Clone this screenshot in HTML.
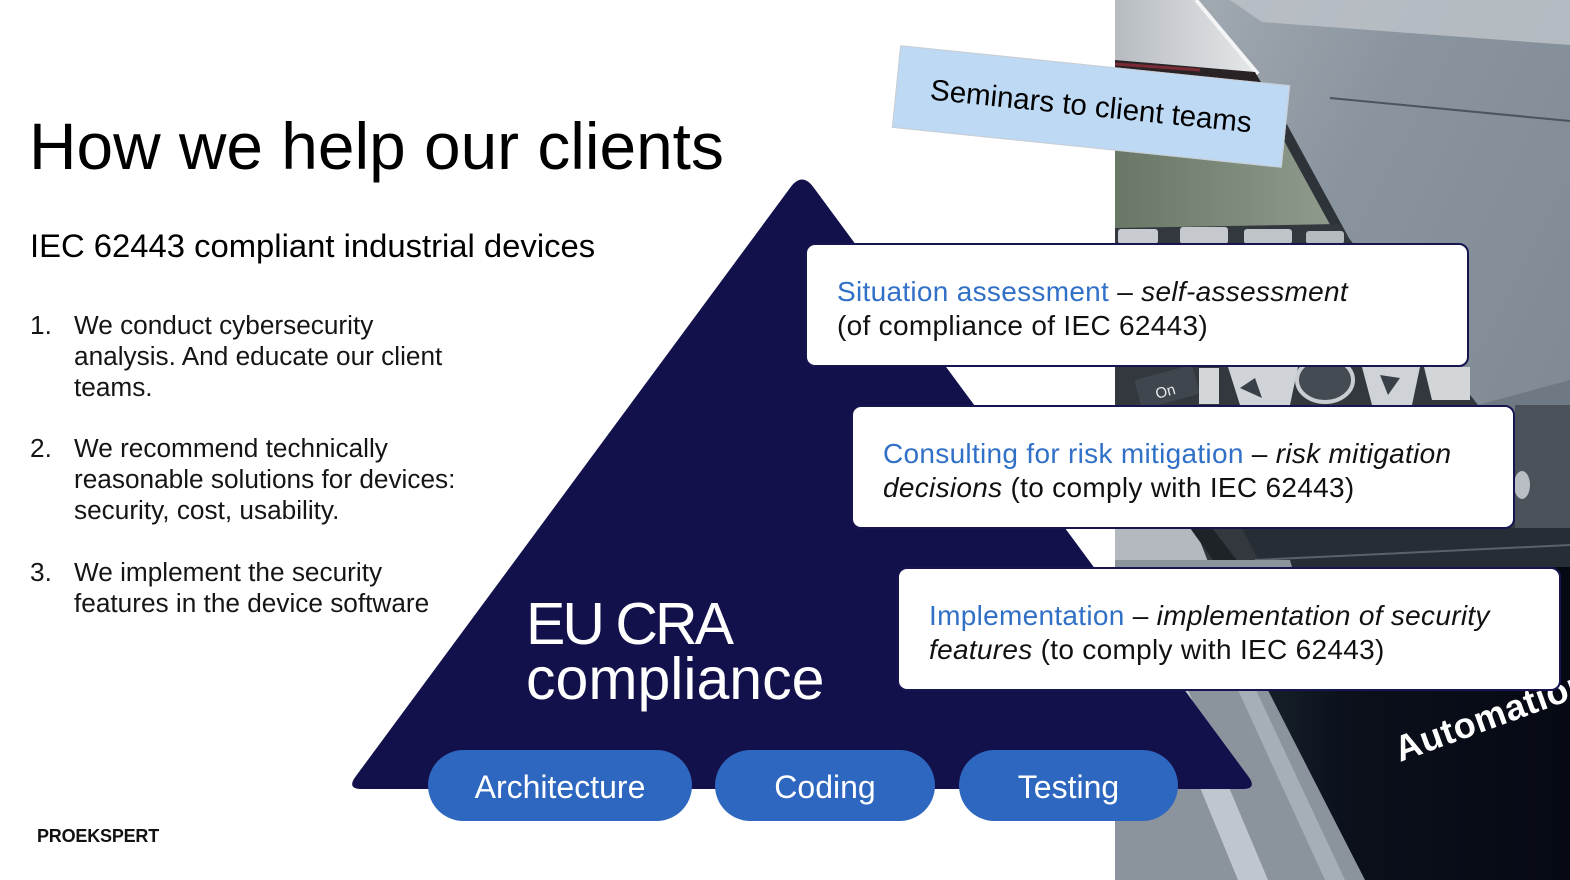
<!DOCTYPE html>
<html><head><meta charset="utf-8">
<style>
*{margin:0;padding:0;box-sizing:border-box}
html,body{width:1570px;height:880px;overflow:hidden;background:#fff}
body{position:relative;font-family:"Liberation Sans",Arial,sans-serif}
.abs{position:absolute}
.title{left:29px;top:113px;font-size:65.8px;line-height:66px;color:#000;white-space:nowrap}
.sub{left:30px;top:229px;font-size:32.8px;line-height:33px;color:#000;white-space:nowrap}
.li{position:absolute;font-size:26.2px;line-height:31px;color:#151515;white-space:nowrap}
.box{position:absolute;background:#fff;border:2px solid #17154f;border-radius:10px;width:664px;height:124px}
.box .t{position:absolute;left:30px;top:30px;font-size:28px;line-height:34px;color:#111;white-space:nowrap;letter-spacing:0.3px}
.blue{color:#3170c7}
.pill{position:absolute;top:750px;height:71px;padding-top:3px;border-radius:36px;background:#2e67bf;color:#fff;font-size:32px;display:flex;align-items:center;justify-content:center}
.eu{left:526px;top:597px;font-size:59px;line-height:55px;color:#fff;white-space:nowrap}
.sem{position:absolute;left:895px;top:65px;width:392px;height:83px;background:#bed9f4;border:1px solid #c9cdd2;transform:rotate(5.86deg);display:flex;align-items:center;justify-content:center;font-size:29.5px;color:#000;white-space:nowrap}
.logo{left:37px;top:826px;font-size:18px;line-height:20px;font-weight:bold;color:#111;letter-spacing:-0.2px}
</style></head><body>

<svg class="abs" style="left:0;top:0" width="1570" height="880" viewBox="0 0 1570 880">
<defs>
 <clipPath id="ph"><rect x="1115" y="0" width="455" height="880"/></clipPath>
 <linearGradient id="gMain" x1="0" y1="0" x2="1" y2="1">
  <stop offset="0" stop-color="#a9b0b7"/><stop offset="0.35" stop-color="#8a949e"/><stop offset="1" stop-color="#78838e"/>
 </linearGradient>
 <linearGradient id="gSilver" x1="0" y1="0" x2="1" y2="0">
  <stop offset="0" stop-color="#b6bbc0"/><stop offset="1" stop-color="#e6e8ea"/>
 </linearGradient>
 <linearGradient id="gLcd" x1="0" y1="0" x2="1" y2="0">
  <stop offset="0" stop-color="#697766"/><stop offset="1" stop-color="#8f9b8d"/>
 </linearGradient>
 <linearGradient id="gDark" x1="0" y1="0" x2="1" y2="0">
  <stop offset="0" stop-color="#1e2a33"/><stop offset="0.4" stop-color="#0b101b"/><stop offset="1" stop-color="#060914"/>
 </linearGradient>
</defs>
<g clip-path="url(#ph)">
 <rect x="1115" y="0" width="455" height="880" fill="url(#gMain)"/>
 <polygon points="1230,0 1570,0 1570,45 1262,22" fill="#bcc2c8" opacity="0.85"/>
 <polygon points="1115,0 1196,0 1258,74 1115,62" fill="url(#gSilver)"/>
 <line x1="1196" y1="0" x2="1258" y2="74" stroke="#f2f4f6" stroke-width="4"/>
 <polygon points="1115,60 1255,72 1262,84 1115,74" fill="#2a2326"/>
 <line x1="1115" y1="64" x2="1200" y2="70" stroke="#7a2a35" stroke-width="3"/>
 <polygon points="1115,74 1265,84 1350,240 1115,240" fill="#2e3339"/>
 <polygon points="1115,98 1266,108 1333,230 1115,230" fill="url(#gLcd)"/>
 <polygon points="1115,228 1338,224 1478,405 1570,440 1570,567 1115,567" fill="#33383f"/>
 <polygon points="1478,405 1570,380 1570,440" fill="#6f7984"/>
 <rect x="1515" y="405" width="55" height="125" fill="#4b525a"/>
 <ellipse cx="1522" cy="485" rx="8" ry="14" fill="#b8bec4"/>
 <rect x="1118" y="229" width="40" height="15" rx="3" fill="#c8ccd0"/>
 <rect x="1180" y="227" width="48" height="17" rx="3" fill="#c5c9cd"/>
 <rect x="1244" y="229" width="48" height="15" rx="3" fill="#bfc4c8"/>
 <rect x="1306" y="231" width="38" height="13" rx="3" fill="#b5babf"/>
 <rect x="1137" y="372" width="60" height="30" rx="4" fill="#40464d" transform="rotate(-15 1167 387)"/>
 <text x="1155" y="396" fill="#e8eaec" font-family="Liberation Sans, sans-serif" font-size="15" transform="rotate(-15 1167 390)">On</text>
 <rect x="1199" y="368" width="20" height="36" fill="#d3d7da"/>
 <polygon points="1228,367 1298,367 1290,405 1240,405" fill="#d0d4d8"/>
 <polygon points="1255,378 1240,388 1262,398" fill="#3a4047"/>
 <ellipse cx="1325" cy="380" rx="28" ry="22" fill="#454b52" stroke="#c9cdd1" stroke-width="4"/>
 <polygon points="1362,367 1420,367 1412,405 1372,405" fill="#cfd3d7"/>
 <polygon points="1380,375 1400,378 1388,395" fill="#3a4047"/>
 <polygon points="1424,367 1470,367 1470,400 1432,400" fill="#d2d6d9"/>
 <polygon points="1115,528 1195,528 1210,567 1115,567" fill="#b3b9bf"/>
 <polygon points="1190,528 1212,528 1242,567 1218,567" fill="#1e2328"/>
 <polygon points="1242,528 1570,528 1570,567 1262,567" fill="#272d34"/>
 <line x1="1255" y1="560" x2="1570" y2="545" stroke="#59616a" stroke-width="2"/>
 <polygon points="1115,560 1290,560 1380,880 1115,880" fill="#8b939c"/>
 <polygon points="1160,690 1188,690 1268,880 1238,880" fill="#bfc6cd"/>
 <polygon points="1238,690 1256,690 1345,880 1325,880" fill="#a6aeb6"/>
 <polygon points="1205,567 1570,567 1570,880 1365,880" fill="url(#gDark)"/>
 <text x="1400" y="762" fill="#ffffff" font-family="Liberation Sans, sans-serif" font-weight="bold" font-size="36" letter-spacing="0.5" transform="rotate(-20 1400 762)">Automation</text>
 <line x1="1330" y1="98" x2="1570" y2="121" stroke="#4c545c" stroke-width="2"/>
</g>
<path d="M 790,188 Q 802,171 814,188 L 1248,776 Q 1258,789 1242,789 L 362,789 Q 346,789 356,776 Z" fill="#13114b"/>
</svg>

<div class="abs title">How we help our clients</div>
<div class="abs sub">IEC 62443 compliant industrial devices</div>

<div class="li" style="left:30px;top:310px">1.</div>
<div class="li" style="left:74px;top:310px">We conduct cybersecurity<br>analysis. And educate our client<br>teams.</div>
<div class="li" style="left:30px;top:433px">2.</div>
<div class="li" style="left:74px;top:433px">We recommend technically<br>reasonable solutions for devices:<br>security, cost, usability.</div>
<div class="li" style="left:30px;top:557px">3.</div>
<div class="li" style="left:74px;top:557px">We implement the security<br>features in the device software</div>

<div class="abs eu"><span style="letter-spacing:-3px">EU CRA</span><br>compliance</div>

<div class="box" style="left:805px;top:243px">
 <div class="t"><span class="blue">Situation assessment</span> – <i>self-assessment</i><br>(of compliance of IEC 62443)</div>
</div>
<div class="box" style="left:851px;top:405px">
 <div class="t"><span class="blue">Consulting for risk mitigation</span> – <i>risk mitigation</i><br><i>decisions</i> (to comply with IEC 62443)</div>
</div>
<div class="box" style="left:897px;top:567px">
 <div class="t"><span class="blue">Implementation</span> – <i>implementation of security</i><br><i>features</i> (to comply with IEC 62443)</div>
</div>

<div class="pill" style="left:428px;width:264px">Architecture</div>
<div class="pill" style="left:715px;width:220px">Coding</div>
<div class="pill" style="left:959px;width:219px">Testing</div>

<div class="sem">Seminars to client teams</div>

<div class="abs logo">PROEKSPERT</div>
</body></html>
